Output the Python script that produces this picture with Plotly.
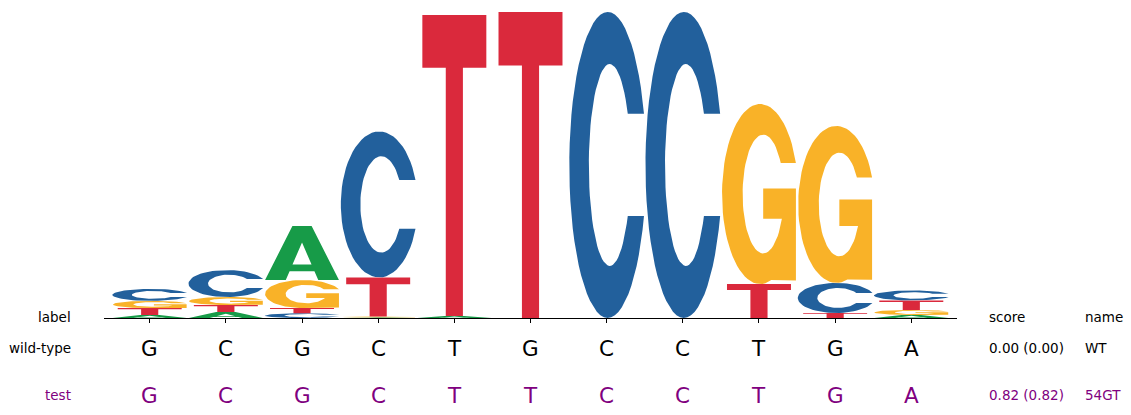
import numpy as np
import plotly.graph_objects as go

# ---- data ----
positions = list(range(11))
wt_seq = ["G", "C", "G", "C", "T", "G", "C", "C", "T", "G", "A"]
test_seq = ["G", "C", "G", "C", "T", "T", "C", "C", "T", "G", "A"]

# letter heights (bits) at each position
A_vals = [0.020, 0.039, 0.353, 0.004, 0.013, 0.000, 0.000, 0.000, 0.000, 0.000, 0.020]
C_vals = [0.078, 0.176, 0.031, 0.954, 0.000, 0.000, 2.000, 2.000, 0.000, 0.196, 0.065]
G_vals = [0.047, 0.052, 0.183, 0.006, 0.000, 0.000, 0.000, 0.000, 1.176, 1.026, 0.033]
T_vals = [0.045, 0.046, 0.034, 0.255, 1.967, 2.000, 0.000, 0.000, 0.222, 0.033, 0.062]

row_names = ["wild-type", "test"]
row_scores = ["0.00 (0.00)", "0.82 (0.82)"]
row_ids = ["WT", "54GT"]

colors = {"A": "#179b48", "C": "#22609c", "G": "#f9b228", "T": "#da293c"}
widths = {"A": 0.97, "C": 0.98, "G": 0.97, "T": 0.84}
purple = "#800080"
FONT = "DejaVu Sans"


# ---- glyph outlines in a unit box ----
def arc(cx, cy, rx, ry, a0, a1, n=60):
    t = np.radians(np.linspace(a0, a1, n))
    return list(zip(cx + rx * np.cos(t), cy + ry * np.sin(t)))


def normalize(loops):
    pts = np.array([p for lp in loops for p in lp])
    x0, y0 = pts.min(axis=0)
    x1, y1 = pts.max(axis=0)
    return [[((x - x0) / (x1 - x0), (y - y0) / (y1 - y0)) for x, y in lp] for lp in loops]


def glyph_C():
    ua = np.degrees(np.arcsin((0.667 - 0.5) / 0.5))
    ia = np.degrees(np.arcsin((0.5 - 0.333) / 0.33))
    outer = arc(0.5, 0.5, 0.5, 0.5, ua, 360 - ua)
    inner = arc(0.526, 0.5, 0.272, 0.33, -ia, -(360 - ia))
    return normalize([outer + inner])


def glyph_G():
    ua = np.degrees(np.arcsin((0.672 - 0.5) / 0.5))
    outer = arc(0.5, 0.5, 0.5, 0.5, ua, 287)
    xr = 0.5 + 0.5 * np.cos(np.radians(ua))
    bar = [(xr, 0.02), (xr, 0.531), (0.54, 0.531), (0.54, 0.362)]
    lo = np.degrees(np.arcsin((0.362 - 0.5) / 0.33))
    hi = np.degrees(np.arcsin((0.672 - 0.5) / 0.33))
    inner = arc(0.54, 0.5, 0.27, 0.33, lo, -(360 - hi))
    return normalize([outer + bar + inner])


def glyph_A():
    outer = [(0, 0), (0.37, 1), (0.63, 1), (1, 0), (0.72, 0), (0.668, 0.165),
             (0.332, 0.165), (0.28, 0)]
    hole = [(0.371, 0.287), (0.629, 0.287), (0.5, 0.695)]
    return [outer, hole]


def glyph_T():
    return [[(0, 1), (1, 1), (1, 0.825), (0.634, 0.825), (0.634, 0),
             (0.366, 0), (0.366, 0.825), (0, 0.825)]]


glyphs = {"A": glyph_A(), "C": glyph_C(), "G": glyph_G(), "T": glyph_T()}
values = {"A": A_vals, "C": C_vals, "G": G_vals, "T": T_vals}

fig = go.Figure()

for i in positions:
    stack = sorted(((values[b][i], b) for b in "ACGT"), key=lambda t: t[0])
    base = 0.0
    for h, b in stack:
        if h <= 0:
            continue
        w = widths[b]
        xs, ys = [], []
        for lp in glyphs[b]:
            for gx, gy in lp:
                xs.append(i - w / 2 + gx * w)
                ys.append(base + gy * h)
            xs.append(None)
            ys.append(None)
        fig.add_trace(go.Scatter(x=xs[:-1], y=ys[:-1], mode="lines", fill="toself",
                                 fillcolor=colors[b], line=dict(width=0, color=colors[b]),
                                 hoverinfo="skip", showlegend=False))
        base += h

# ---- text table below the logo ----
W, H = 1131, 415
def py(pix):
    return 1 - pix / H

ann = []
row_y = [348, 395]
row_col = ["black", purple]
for txt, xp, anc in [("label", 73, "right"), ("score", 987, "left"), ("name", 1083, "left")]:
    ann.append(dict(text=txt, x=xp / W, y=py(317), xref="paper", yref="paper",
                    xanchor=anc, yanchor="middle", showarrow=False,
                    font=dict(family=FONT, size=13.5, color="black")))
for seq, nm, sc, rid, yy, col in zip([wt_seq, test_seq], row_names, row_scores, row_ids, row_y, row_col):
    for txt, xp, anc in [(nm, 73, "right"), (sc, 987, "left"), (rid, 1083, "left")]:
        ann.append(dict(text=txt, x=xp / W, y=py(yy), xref="paper", yref="paper",
                        xanchor=anc, yanchor="middle", showarrow=False,
                        font=dict(family=FONT, size=13.5, color=col)))
    for i, ch in zip(positions, seq):
        ann.append(dict(text=ch, x=i, y=py(yy), xref="x", yref="paper",
                        xanchor="center", yanchor="middle", showarrow=False,
                        font=dict(family=FONT, size=21.5, color=col)))

fig.update_layout(
    width=W, height=H,
    margin=dict(l=0, r=0, t=0, b=0),
    paper_bgcolor="white", plot_bgcolor="white",
    xaxis=dict(domain=[104 / W, 957 / W], range=[-0.6, 10.6], showline=True,
               linecolor="black", linewidth=1.2, ticks="outside", ticklen=4,
               tickwidth=1.2, tickcolor="black", tickvals=positions,
               showticklabels=False, showgrid=False, zeroline=False),
    yaxis=dict(domain=[py(318), 1], range=[0, 2.078], visible=False),
    annotations=ann,
)

fig.write_html("out.html", config={"displayModeBar": False},
               post_script="document.body.style.margin='0px';")
